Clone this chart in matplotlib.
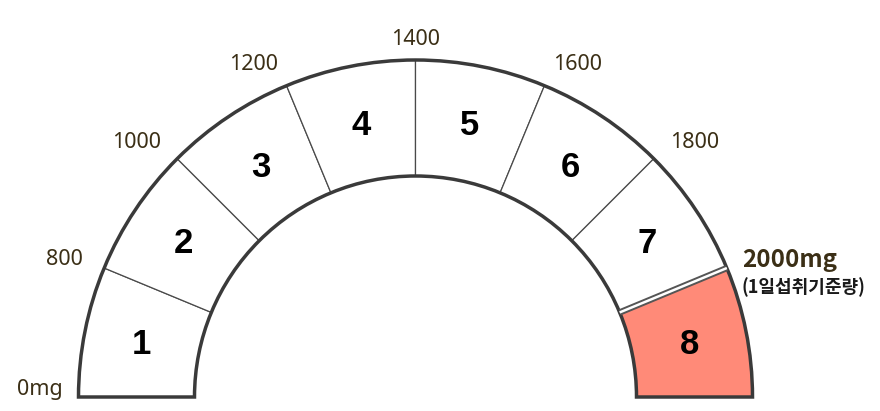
from matplotlib import pyplot as plt, patches
import math

# gauge data
segments = ['1', '2', '3', '4', '5', '6', '7', '8']
tick_labels = ['0mg', '800', '1000', '1200', '1400', '1600', '1800']
limit_label = '2000mg'
limit_note = '(1일섭취기준량)'
highlight = '8'

# layout (pixels, y up)
cx, cy = 415.5, 14
r_out, r_in = 337, 221
step = 180 / len(segments)

fig = plt.figure(figsize=(8.8, 4.11), dpi=100)
ax = fig.add_axes([0, 0, 1, 1])
ax.set_xlim(0, 880)
ax.set_ylim(0, 411)
ax.axis('off')

for i, name in enumerate(segments):
  t2 = 180 - step * i
  t1 = t2 - step
  face = '#ff8a78' if name == highlight else 'white'
  w = patches.Wedge((cx, cy), r_out, t1, t2, width=r_out - r_in,
                    facecolor=face, edgecolor='#4a4a4a', lw=0.9)
  ax.add_patch(w)
  mid = math.radians((t1 + t2) / 2)
  rm = (r_out + r_in) / 2
  ax.text(cx + rm * math.cos(mid), cy + rm * math.sin(mid) - 2, name,
          ha='center', va='center', fontsize=25, fontweight='bold',
          family='Liberation Sans', color='black')

# outline
ax.add_patch(patches.Wedge((cx, cy), r_out, 0, 180, width=r_out - r_in,
                           fill=False, edgecolor='#3a3a3a', lw=2.5))

# double line before the last segment
a = math.radians(step)
xs = [cx + r_in * math.cos(a), cx + r_out * math.cos(a)]
ys = [cy + r_in * math.sin(a), cy + r_out * math.sin(a)]
ax.plot(xs, ys, color='#555555', lw=4.6, solid_capstyle='butt')
ax.plot(xs, ys, color='white', lw=1.8, solid_capstyle='butt')

# tick labels
r_lab = 360
for i, lab in enumerate(tick_labels):
  ang = 180 - step * i
  t = math.radians(ang)
  x = cx + r_lab * math.cos(t)
  y = cy + r_lab * math.sin(t)
  if abs(ang - 90) < 1:
    ha, va, y = 'center', 'bottom', cy + 347
  elif ang > 90:
    ha, va = 'right', 'center'
  else:
    ha, va = 'left', 'center'
  if i == 0:
    va, x, y = 'bottom', x + 7, cy - 3
  ax.text(x, y, lab, ha=ha, va=va, fontsize=15.5, family='Noto Sans',
          color='#3b2f16')

t = math.radians(step)
lx = cx + r_lab * math.cos(t) - 6
ly = cy + r_lab * math.sin(t)
ax.text(lx, ly - 1, limit_label, ha='left', va='center', fontsize=17.5,
        fontweight='bold', family=['Noto Sans CJK KR', 'DejaVu Sans'],
        color='#3b2f16')
ax.text(lx - 1, ly - 28, limit_note, ha='left', va='center', fontsize=13,
        fontweight='bold', family=['Noto Sans CJK KR', 'DejaVu Sans'],
        color='#1a1a1a')

fig.savefig('out.png', dpi=100)
